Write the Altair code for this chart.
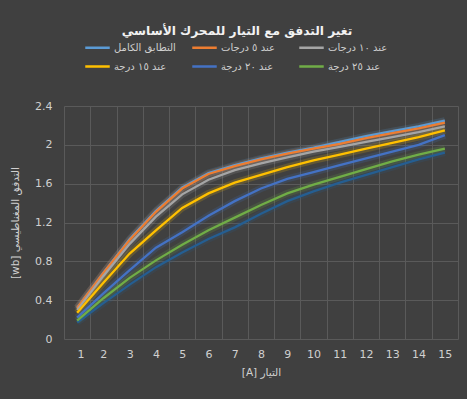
import altair as alt
import pandas as pd

# Current [A] on the x axis
current = list(range(1, 16))

# Flux [wb] per misalignment case
full_alignment = [0.32, 0.68, 1.03, 1.32, 1.56, 1.71, 1.79, 1.86, 1.92, 1.97, 2.03, 2.09, 2.14, 2.19, 2.25]
at_5_deg = [0.32, 0.68, 1.02, 1.31, 1.55, 1.70, 1.78, 1.85, 1.91, 1.96, 2.01, 2.07, 2.12, 2.17, 2.23]
at_10_deg = [0.30, 0.65, 0.98, 1.26, 1.49, 1.64, 1.74, 1.81, 1.87, 1.93, 1.98, 2.03, 2.08, 2.13, 2.19]
at_15_deg = [0.27, 0.58, 0.88, 1.12, 1.35, 1.50, 1.61, 1.69, 1.77, 1.84, 1.90, 1.96, 2.02, 2.08, 2.15]
at_20_deg = [0.22, 0.47, 0.71, 0.94, 1.10, 1.27, 1.42, 1.55, 1.65, 1.72, 1.79, 1.86, 1.93, 2.00, 2.10]
at_25_deg = [0.19, 0.42, 0.63, 0.81, 0.97, 1.12, 1.25, 1.38, 1.50, 1.59, 1.67, 1.75, 1.83, 1.90, 1.96]
series_7 = [0.17, 0.37, 0.56, 0.74, 0.89, 1.03, 1.15, 1.29, 1.42, 1.52, 1.61, 1.69, 1.77, 1.85, 1.92]

names = ["التطابق الكامل", "عند ٥ درجات", "عند ١٠ درجات", "عند ١٥ درجة", "عند ٢٠ درجة", "عند ٢٥ درجة"]
colors = ["#5B9BD5", "#ED7D31", "#A5A5A5", "#FFC000", "#4472C4", "#70AD47"]
series_values = [full_alignment, at_5_deg, at_10_deg, at_15_deg, at_20_deg, at_25_deg]

rows = []
for k, (name, vals) in enumerate(zip(names, series_values)):
    for x, v in zip(current, vals):
        rows.append({"current": x, "flux": v, "series": name, "k": k})
df = pd.DataFrame(rows)
df7 = pd.DataFrame({"current": current, "flux": series_7})

FONT = "DejaVu Sans"
BG = "#404040"
GRID = "#5a5a5a"
TXT = "#d0d0d0"

x_enc = alt.X(
    "current:Q",
    scale=alt.Scale(domain=[0.5, 15.5], nice=False, zero=False),
    axis=alt.Axis(
        values=[i + 0.5 for i in range(0, 16)],
        labelExpr="datum.value < 15 ? format(datum.value + 0.5, 'd') : ''",
        labelOffset=13.1,
        title="[A] التيار",
        grid=True,
        gridColor=GRID,
        domain=False,
        ticks=False,
        labelPadding=9,
        titlePadding=8,
    ),
)
y_enc = alt.Y(
    "flux:Q",
    scale=alt.Scale(domain=[0, 2.4], nice=False),
    axis=alt.Axis(
        values=[0, 0.4, 0.8, 1.2, 1.6, 2.0, 2.4],
        format="~g",
        title="[wb] التدفق المغناطيسي",
        grid=True,
        gridColor=GRID,
        domain=False,
        ticks=False,
        labelPadding=12,
        titlePadding=14,
    ),
)

legend = alt.Legend(
    title=None,
    orient="none",
    legendX=20,
    legendY=-72,
    columns=3,
    direction="horizontal",
    gridAlign="all",
    columnPadding=11,
    rowPadding=-15,
    symbolType="stroke",
    symbolSize=600,
    symbolStrokeWidth=2.5,
    symbolOpacity=1,
    labelFontSize=10,
    labelColor=TXT,
    labelFont=FONT,
    labelOffset=3,
)
color_enc = alt.Color(
    "series:N",
    scale=alt.Scale(domain=names, range=colors),
    sort=names,
    legend=legend,
)

# soft halo under every line
glow = alt.Chart(df).mark_line(strokeWidth=7, opacity=0.18).encode(
    x=x_enc, y=y_enc, color=color_enc, order="k:Q"
)
glow7 = alt.Chart(df7).mark_line(strokeWidth=7, opacity=0.18, color="#255E91").encode(
    x=x_enc, y=y_enc
)
line7 = alt.Chart(df7).mark_line(strokeWidth=2.3, color="#255E91").encode(
    x=x_enc, y=y_enc
)
lines = alt.Chart(df).mark_line(strokeWidth=2.3).encode(
    x=x_enc, y=y_enc, color=color_enc, order="k:Q"
)

chart = (
    alt.layer(glow7, glow, line7, lines)
    .properties(
        width=394,
        height=233,
        autosize=alt.AutoSizeParams(type="none"),
        padding={"left": 64, "top": 106, "right": 9, "bottom": 60},
        background=BG,
        title=alt.TitleParams(
            "تغير التدفق مع التيار للمحرك الأساسي",
            font=FONT,
            fontSize=12.2,
            fontWeight="bold",
            color="#f2f2f2",
            anchor="middle",
            dx=-24,
            dy=3,
            offset=0,
        ),
    )
    .configure_view(stroke=None)
    .configure_axis(
        labelFont=FONT,
        titleFont=FONT,
        labelFontSize=11,
        titleFontSize=10.5,
        labelColor=TXT,
        titleColor=TXT,
        titleFontWeight="normal",
    )
)

chart.save("out.html", embed_options={"renderer": "svg", "actions": False})
